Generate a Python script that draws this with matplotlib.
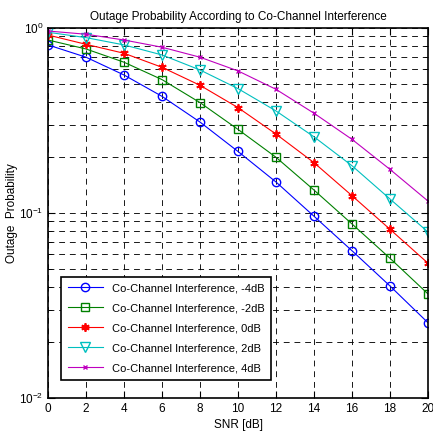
import matplotlib
matplotlib.use('Agg')
import matplotlib.pyplot as plt
from matplotlib.ticker import LogLocator, NullFormatter

plt.rcParams['font.family'] = ['Liberation Sans', 'DejaVu Sans']
plt.rcParams['mathtext.default'] = 'regular'

snr = [0, 2, 4, 6, 8, 10, 12, 14, 16, 18, 20]

p_m4 = [0.81, 0.695, 0.557, 0.427, 0.31, 0.215, 0.147, 0.096, 0.0625, 0.0403, 0.0255]
p_m2 = [0.861, 0.77, 0.653, 0.526, 0.395, 0.283, 0.2, 0.133, 0.0872, 0.0569, 0.0365]
p_0 = [0.916, 0.816, 0.73, 0.613, 0.49, 0.371, 0.267, 0.187, 0.124, 0.0816, 0.0535]
p_2 = [0.948, 0.887, 0.81, 0.715, 0.593, 0.47, 0.356, 0.258, 0.18, 0.119, 0.0789]
p_4 = [0.963, 0.925, 0.861, 0.787, 0.695, 0.586, 0.466, 0.346, 0.25, 0.172, 0.116]

labels = ['Co-Channel Interference, -4dB', 'Co-Channel Interference, -2dB',
          'Co-Channel Interference, 0dB', 'Co-Channel Interference, 2dB',
          'Co-Channel Interference, 4dB']

fig = plt.figure(figsize=(4.33, 4.40), dpi=100)
ax = fig.add_axes([0.1109, 0.0955, 0.8776, 0.8409])

ax.semilogy(snr, p_m4, color='blue', marker='o', ms=6, mfc='none', lw=0.8, label=labels[0])
ax.semilogy(snr, p_m2, color='green', marker='s', ms=6, mfc='none', lw=0.8, label=labels[1])
ax.semilogy(snr, p_0, color='red', marker=(6, 2, 0), ms=6, mew=1.3, lw=0.8, label=labels[2])
ax.semilogy(snr, p_2, color='c', marker='v', ms=6.5, mfc='none', lw=0.8, label=labels[3])
ax.semilogy(snr, p_4, color='m', marker='x', ms=3.5, lw=0.8, label=labels[4])

ax.set_xlim(0, 20)
ax.set_ylim(1e-2, 1)
ax.set_xticks(range(0, 21, 2))
ax.yaxis.set_minor_locator(LogLocator(base=10, subs=range(2, 10)))
ax.yaxis.set_minor_formatter(NullFormatter())

ax.grid(True, which='major', color='black', linestyle=(0, (6, 5)), lw=0.7, alpha=0.9)
ax.grid(True, which='minor', axis='y', color='black', linestyle=(0, (6, 5)), lw=0.7, alpha=0.9)

ax.tick_params(which='both', direction='in', top=True, right=True, labelsize=8.5)
ax.tick_params(which='major', length=5)
ax.tick_params(which='minor', length=3)
for s in ax.spines.values():
    s.set_linewidth(1.2)

ax.set_title('Outage Probability According to Co-Channel Interference', fontsize=8.5, pad=6)
ax.set_xlabel('SNR [dB]', fontsize=8.5, labelpad=3)
ax.set_ylabel('Outage  Probability', fontsize=8.5)
ax.yaxis.set_label_coords(-0.079, 0.5)

leg = ax.legend(loc='lower left', bbox_to_anchor=(0.034, 0.049), borderaxespad=0,
                fontsize=8, fancybox=False, framealpha=1, edgecolor='black',
                handlelength=3.2, labelspacing=0.9, borderpad=0.6)
leg.get_frame().set_linewidth(1.2)

fig.savefig('out.png', dpi=100)
